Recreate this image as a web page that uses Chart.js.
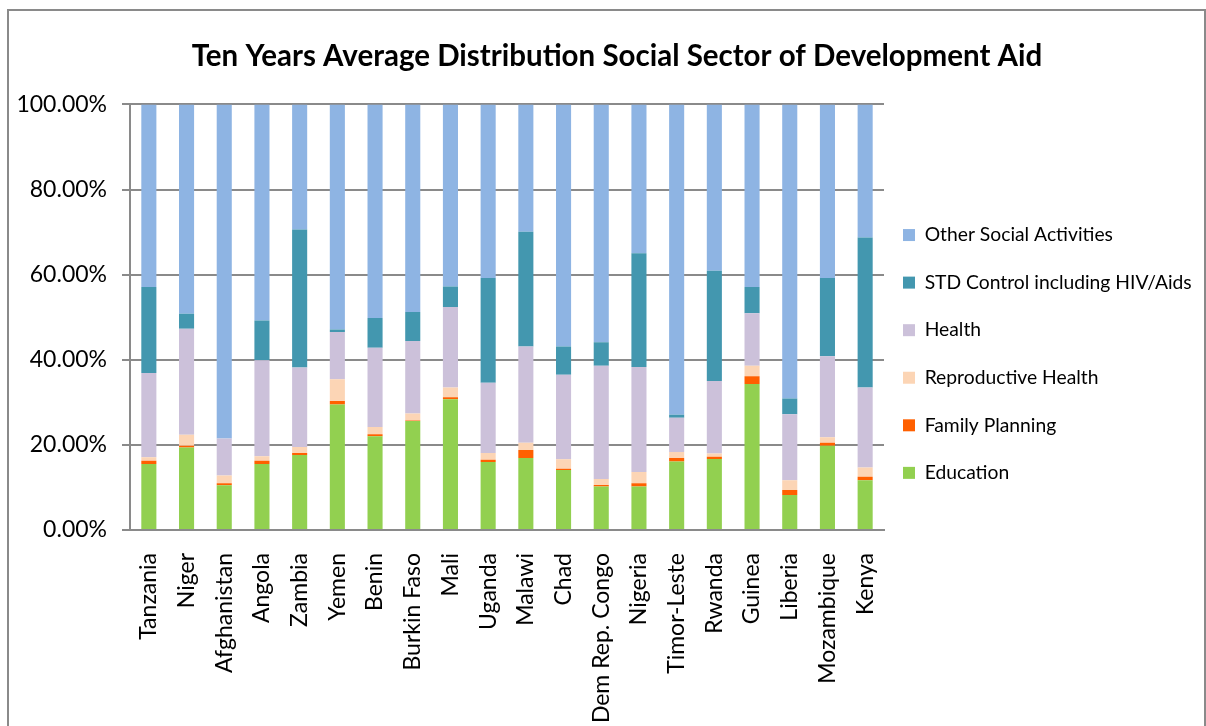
<!DOCTYPE html>
<html>
<head>
<meta charset="utf-8">
<script src="https://cdn.jsdelivr.net/npm/chart.js@4.4.1/dist/chart.umd.min.js"></script>
<style>
  body { margin: 0; background: #fff; }
  #frame { position: absolute; left: 7px; top: 9px; width: 1195px; height: 800px; border: 2px solid #8a8a8a; }
  #wrap { position: absolute; left: 0; top: 0; width: 1206px; height: 726px; }
</style>
</head>
<body>
<div id="frame"></div>
<div id="wrap"><canvas id="myChart"></canvas></div>
<script>
// countries, left to right
const countries = ['Tanzania', 'Niger', 'Afghanistan', 'Angola', 'Zambia', 'Yemen', 'Benin', 'Burkin Faso', 'Mali', 'Uganda',
    'Malawi', 'Chad', 'Dem Rep. Congo', 'Nigeria', 'Timor-Leste', 'Rwanda', 'Guinea', 'Liberia', 'Mozambique', 'Kenya'];

// shares in percent
const education = [15.5, 19.4, 10.5, 15.5, 17.6, 29.5, 22.0, 25.6, 30.7, 16.0, 16.9, 14.1, 10.2, 10.2, 16.1, 16.7, 34.3, 8.2, 19.8, 11.7];
const familyPlanning = [0.8, 0.4, 0.5, 0.8, 0.5, 0.8, 0.5, 0.1, 0.5, 0.5, 1.9, 0.3, 0.4, 0.8, 0.8, 0.5, 1.8, 1.2, 0.7, 0.8];
const reproductiveHealth = [0.8, 2.6, 1.8, 1.0, 1.4, 5.1, 1.7, 1.7, 2.3, 1.6, 1.7, 2.2, 1.4, 2.6, 1.4, 0.8, 2.5, 2.3, 1.3, 2.2];
const health = [19.8, 24.9, 8.7, 22.6, 18.7, 11.1, 18.6, 17.0, 18.9, 16.5, 22.6, 19.9, 26.6, 24.7, 8.1, 17.0, 12.3, 15.5, 19.0, 18.8];
const stdControl = [20.2, 3.5, 0.0, 9.3, 32.4, 0.6, 7.0, 6.8, 4.8, 24.6, 27.0, 6.6, 5.5, 26.7, 0.7, 25.9, 6.2, 3.7, 18.4, 35.2];
const otherSocial = [42.9, 49.2, 78.5, 50.8, 29.4, 52.9, 50.2, 48.8, 42.8, 40.8, 29.9, 56.9, 55.9, 35.0, 72.9, 39.1, 42.9, 69.1, 40.8, 31.3];

const yTicks = [0, 20, 40, 60, 80, 100];

const FONT = 'Lato';
const GRID = '#8a8a8a';
const LEGEND_W = 340;

const data = {
    labels: countries,
    datasets: [
        { label: 'Education', data: education, backgroundColor: '#92D050' },
        { label: 'Family Planning', data: familyPlanning, backgroundColor: '#FF6000' },
        { label: 'Reproductive Health', data: reproductiveHealth, backgroundColor: '#FCD5B5' },
        { label: 'Health', data: health, backgroundColor: '#CCC1DA' },
        { label: 'STD Control including HIV/Aids', data: stdControl, backgroundColor: '#4397AF' },
        { label: 'Other Social Activities', data: otherSocial, backgroundColor: '#8EB4E3' }
    ]
};

const config = {
    type: 'bar',
    data: data,
    options: {
        responsive: true,
        maintainAspectRatio: false,
        animation: false,
        datasets: { bar: { barPercentage: 0.4, categoryPercentage: 1.0, borderWidth: 0 } },
        // right padding is negative so the title centre lands where the original has it
        layout: { padding: { left: 10, right: -18, top: 0, bottom: 0 } },
        plugins: {
            title: {
                display: true,
                text: 'Ten Years Average Distribution Social Sector of Development Aid',
                color: '#000',
                font: { family: FONT, size: 29.5, weight: 'bold' },
                padding: { top: 39, bottom: 30 }
            },
            legend: {
                position: 'right',
                align: 'start',
                reverse: true,
                title: { display: true, text: '', font: { size: 12 }, padding: { top: 192, bottom: 0 } },
                labels: {
                    color: '#000',
                    boxWidth: 12,
                    boxHeight: 12,
                    padding: 19,
                    font: { family: FONT, size: 19.3, lineHeight: 1.48 },
                    // one-line arrays so the row height follows the font lineHeight
                    generateLabels: function (chart) {
                        return Chart.defaults.plugins.legend.labels.generateLabels(chart)
                            .map(l => Object.assign(l, { text: [l.text] }));
                    }
                }
            },
            tooltip: { enabled: false }
        },
        scales: {
            x: {
                stacked: true,
                grid: { display: false },
                border: { display: true, color: GRID, width: 2 },
                ticks: {
                    color: '#000',
                    autoSkip: false,
                    minRotation: 90,
                    maxRotation: 90,
                    padding: 15,
                    font: { family: FONT, size: 23 }
                },
                afterFit: function (scale) { scale.height = 196; }
            },
            y: {
                stacked: true,
                min: 0,
                max: 100,
                afterBuildTicks: function (scale) { scale.ticks = yTicks.map(v => ({ value: v })); },
                grid: { color: GRID, lineWidth: 2, tickLength: 8, drawTicks: true },
                border: { display: true, color: GRID, width: 2 },
                ticks: {
                    color: '#000',
                    padding: 15,
                    font: { family: FONT, size: 23 },
                    callback: v => v.toFixed(2) + '%'
                },
                afterFit: function (scale) { scale.width = 120; }
            }
        }
    }
};

const myChart = new Chart(document.getElementById('myChart'), config);

// fixed legend width so the plot ends where the original's does
const legendFit = myChart.legend.fit;
myChart.legend.fit = function () {
    legendFit.call(this);
    this.width = LEGEND_W;
};
myChart.update();
</script>
</body>
</html>
